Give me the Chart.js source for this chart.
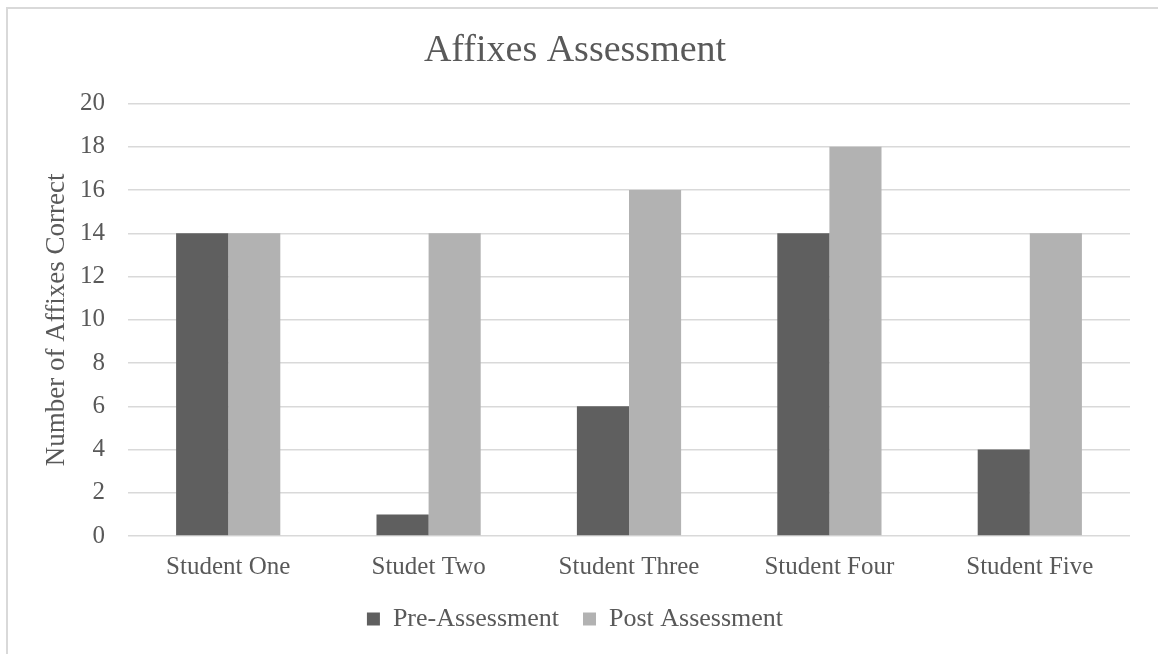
<!DOCTYPE html>
<html>
<head>
<meta charset="utf-8">
<script src="https://cdn.jsdelivr.net/npm/chart.js@4"></script>
<style>
    html, body { margin: 0; padding: 0; background: #ffffff; overflow: hidden; }
    #frame { position: absolute; left: 6px; top: 7px; width: 1200px; height: 700px; border: 2px solid #d9d9d9; }
    #wrap { position: absolute; left: 0; top: 0; width: 1158px; height: 654px; }
</style>
</head>
<body>
<div id="frame"></div>
<div id="wrap"><canvas id="grafico"></canvas></div>
<script>
const alunos = ['Student One', 'Studet Two', 'Student Three', 'Student Four', 'Student Five'];
const preAvaliacao = [14, 1, 6, 14, 4];
const posAvaliacao = [14, 14, 16, 18, 14];

const corTexto = '#595959';
const fonte = 'Liberation Serif';

const graficoCTX = document.getElementById('grafico').getContext('2d');

new Chart(graficoCTX, {
    type: 'bar',
    data: {
        labels: alunos,
        datasets: [{
            label: 'Pre-Assessment',
            data: preAvaliacao,
            backgroundColor: '#5f5f5f',
            borderWidth: 0
        }, {
            label: 'Post Assessment',
            data: posAvaliacao,
            backgroundColor: '#b2b2b2',
            borderWidth: 0
        }]
    },
    options: {
        responsive: true,
        maintainAspectRatio: false,
        animation: false,
        datasets: {
            bar: { categoryPercentage: 0.52, barPercentage: 1 }
        },
        layout: {
            padding: { left: 20, right: 28, top: 0, bottom: 12 }
        },
        scales: {
            x: {
                grid: { display: false },
                border: { display: false },
                ticks: {
                    color: corTexto,
                    padding: 8,
                    font: { family: fonte, size: 25, lineHeight: 1.2 }
                },
                // altura fixa do eixo x, igual ao original
                afterFit: (eixo) => { eixo.height = 46; }
            },
            y: {
                min: 0,
                max: 20,
                ticks: {
                    stepSize: 2,
                    color: corTexto,
                    padding: 23,
                    font: { family: fonte, size: 25, lineHeight: 1.2 }
                },
                grid: { color: '#d9d9d9', lineWidth: 1.5, drawTicks: false },
                border: { display: false },
                title: {
                    display: true,
                    text: 'Number of Affixes Correct',
                    color: corTexto,
                    padding: { top: 21, bottom: 0 },
                    font: { family: fonte, size: 27, lineHeight: 1.2 }
                },
                afterFit: (eixo) => { eixo.width = 108; }
            }
        },
        plugins: {
            title: {
                display: true,
                text: 'Affixes Assessment',
                color: corTexto,
                padding: { top: 28, bottom: 30 },
                font: { family: fonte, size: 38, weight: 'normal', lineHeight: 1.2 }
            },
            legend: {
                position: 'bottom',
                labels: {
                    color: corTexto,
                    boxWidth: 13,
                    boxHeight: 13,
                    padding: 24,
                    font: { family: fonte, size: 26 }
                }
            },
            tooltip: { enabled: false }
        }
    }
});
</script>
</body>
</html>
